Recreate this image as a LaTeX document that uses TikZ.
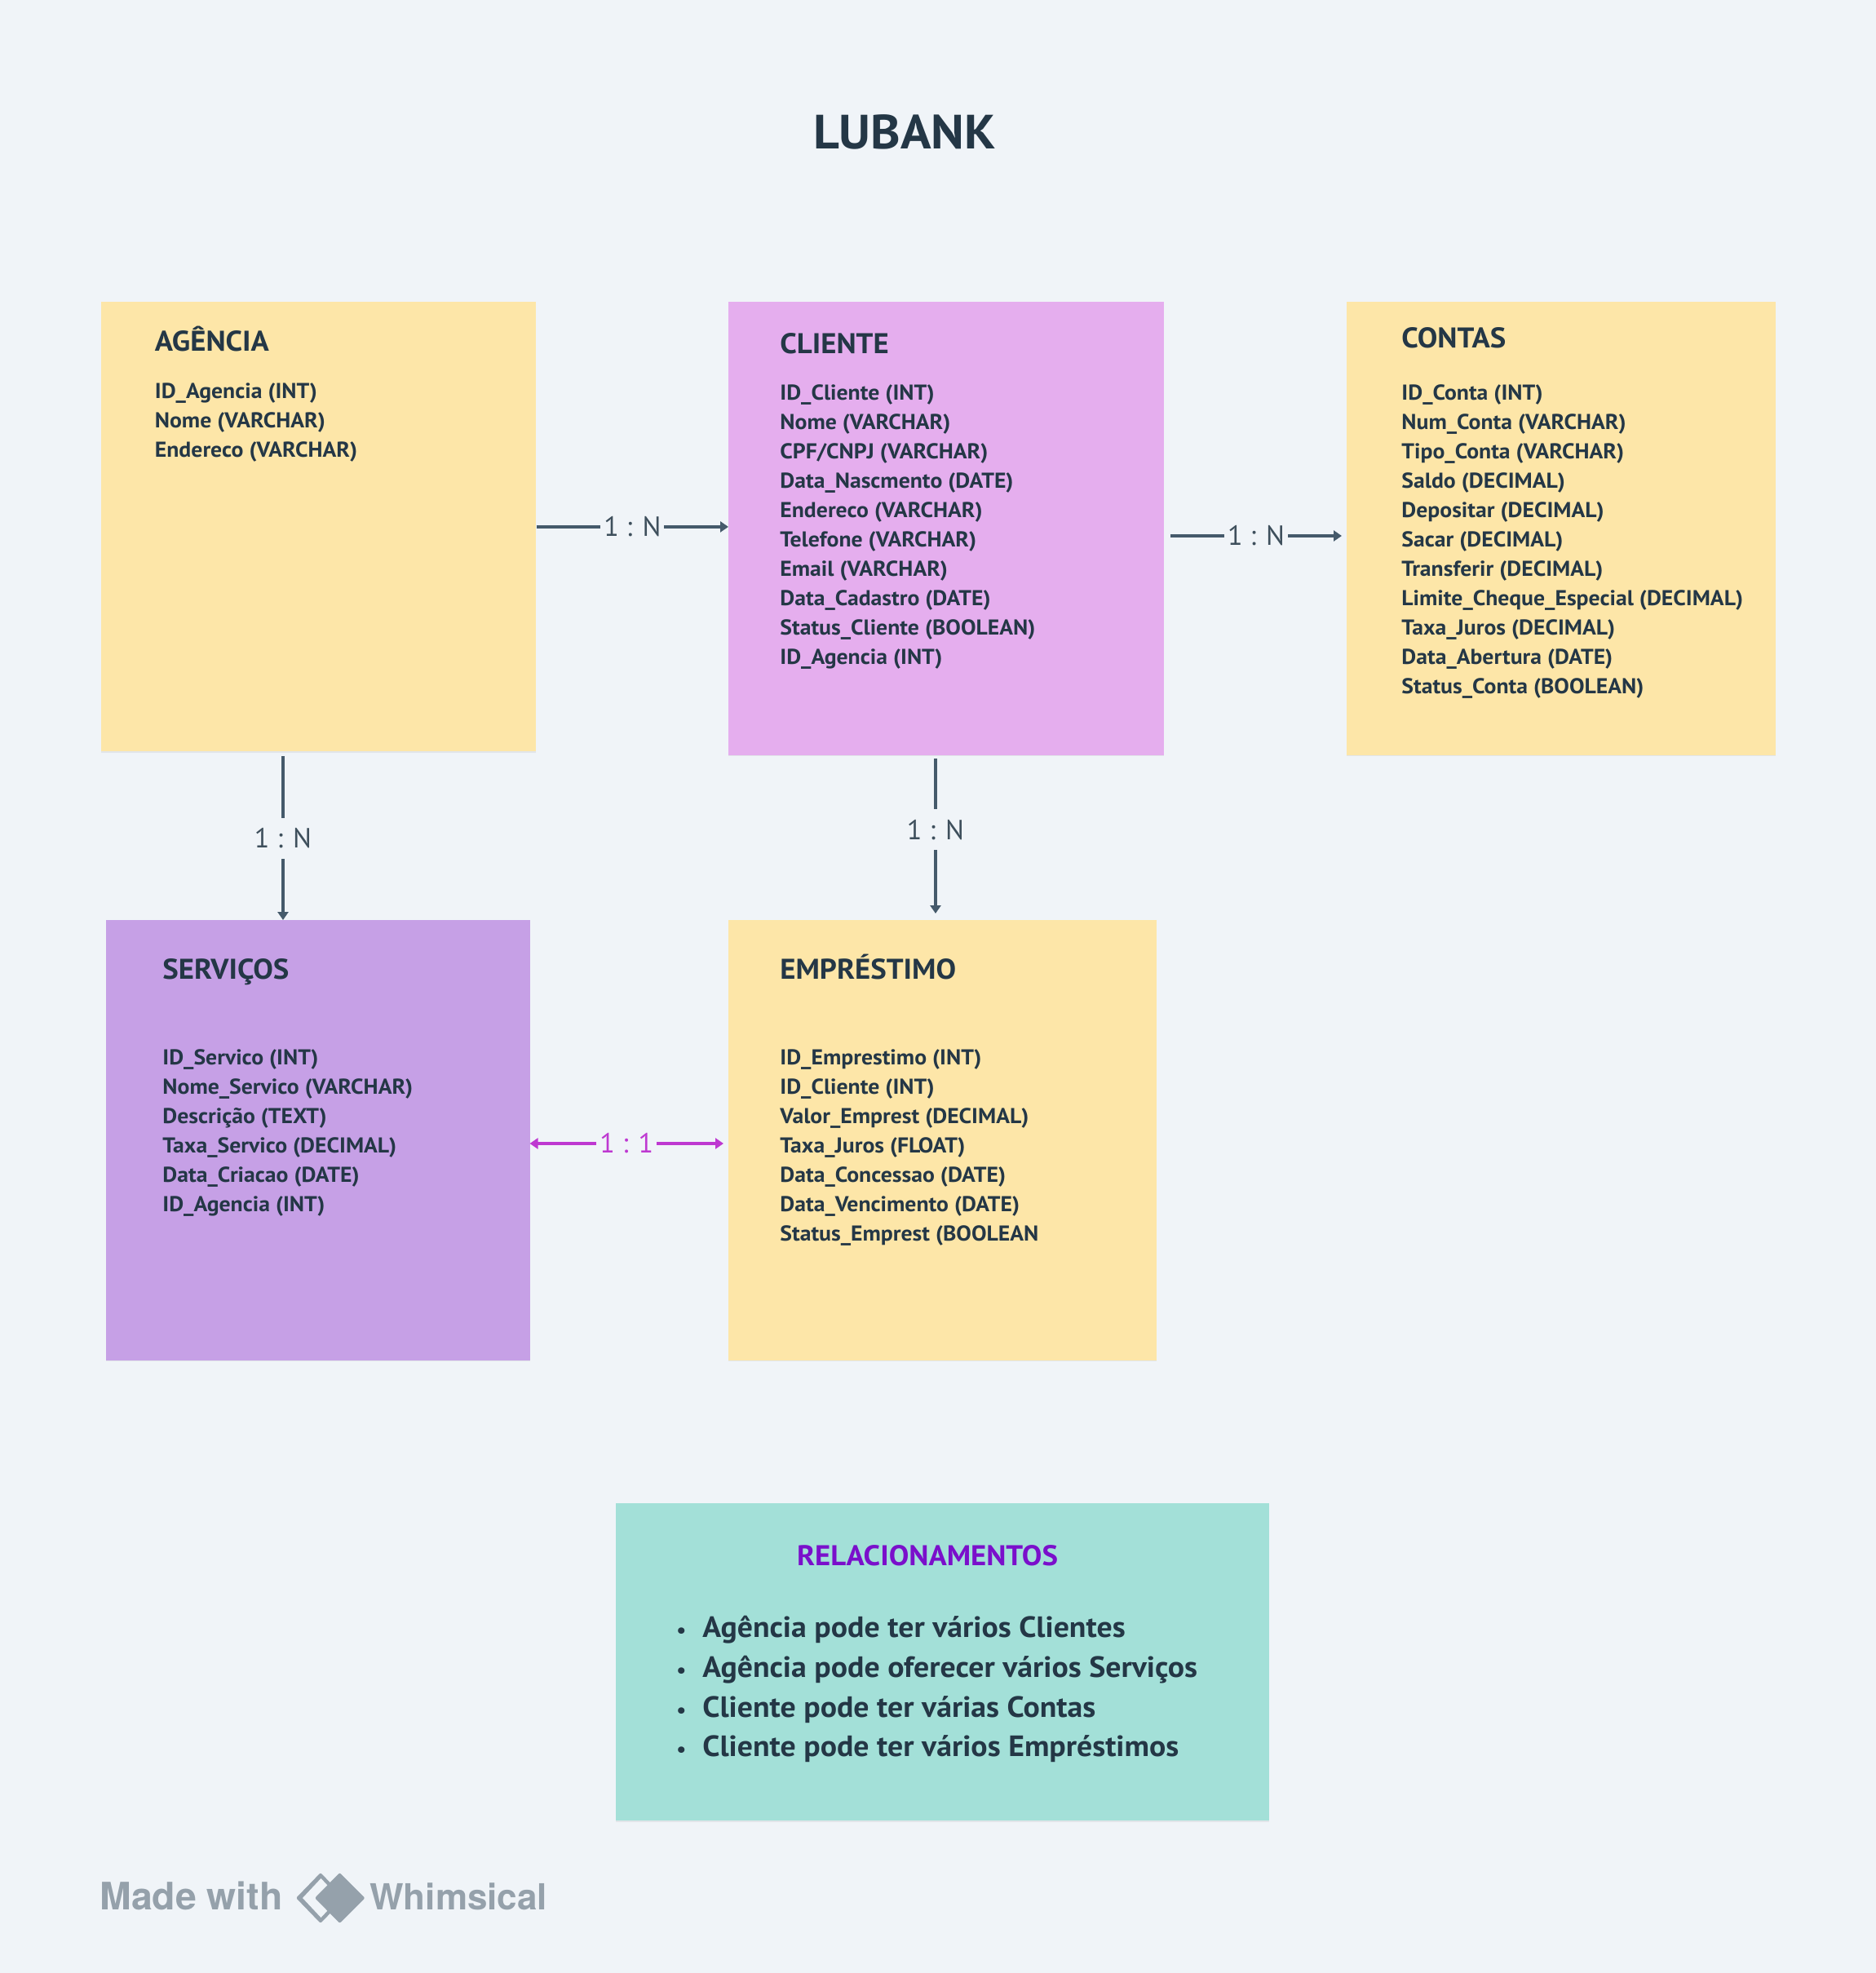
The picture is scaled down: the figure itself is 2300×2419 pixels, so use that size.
\documentclass[tikz,border=0pt]{standalone}
\usepackage{fontspec}
\setmainfont[BoldFeatures={FakeStretch=1.05}]{PT Sans}
\newfontfamily\whimfont{TeX Gyre Heros}
\usetikzlibrary{arrows.meta,calc,shadows}

\definecolor{pagebg}{HTML}{F0F4F8}
\definecolor{inkdark}{HTML}{243746}
\definecolor{inkline}{HTML}{455A6B}
\definecolor{inklabel}{HTML}{3E4F5C}
\definecolor{sand}{HTML}{FDE6A8}
\definecolor{orchid}{HTML}{E5AEEE}
\definecolor{lilac}{HTML}{C6A0E6}
\definecolor{teal}{HTML}{A3E0D8}
\definecolor{magentaline}{HTML}{BE38D1}
\definecolor{violet}{HTML}{7A0FCB}
\definecolor{logogray}{HTML}{95A1AB}

\tikzset{
	box/.style={anchor=north west, inner sep=0pt, general shadow={shadow yshift=-0.7pt, fill=black, opacity=.06}},
	heading/.style={anchor=base west, inner sep=0pt, text=inkdark, font=\fontsize{17.5}{20}\selectfont\bfseries},
	fields/.style={anchor=north west, inner sep=0pt, align=left, text=inkdark, font=\fontsize{13.2}{18}\selectfont\bfseries},
	link/.style={-{Triangle[length=5pt,width=6.5pt]}, line width=1.75pt, inkline},
	ratio/.style={fill=pagebg, inner xsep=2pt, inner ysep=0pt, minimum height=25pt, text=inklabel, font=\fontsize{17}{20}\selectfont},
	logotext/.style={anchor=base west, inner sep=0pt, text=logogray, font=\whimfont\bfseries},
}
\newcommand{\relitem}[1]{\makebox[16pt][l]{\scalebox{.7}{\textbullet}}#1}

\begin{document}
\begin{tikzpicture}[x=0.5pt, y=-0.5pt]
	\fill[pagebg] (0,0) rectangle (2300,2419);
	\useasboundingbox (0,0) rectangle (2300,2419);

	\node [anchor=center, inner sep=0pt, text=inkdark, font=\fontsize{29.5}{32}\selectfont\bfseries] (title) at (1109,162) {LUBANK};

	\node [box, fill=sand, minimum width=266.75pt, minimum height=275.5pt]		(agencia)	at (123.5,370) {};
	\node [box, fill=orchid, minimum width=267pt, minimum height=277.75pt]		(cliente)	at (893,370) {};
	\node [box, fill=sand, minimum width=263pt, minimum height=277.75pt]		(contas)	at (1650.5,370) {};
	\node [box, fill=lilac, minimum width=259.75pt, minimum height=270pt]		(servicos)	at (130,1127.5) {};
	\node [box, fill=sand, minimum width=262.5pt, minimum height=270pt]		(emprestimo)	at (893,1127.5) {};
	\node [box, fill=teal, minimum width=400.5pt, minimum height=194.5pt]		(relac)		at (755,1843) {};

	\node [heading] (agenciaT)	at (189.5,430) {AGÊNCIA};
	\node [heading] (clienteT)	at (956,433) {CLIENTE};
	\node [heading] (contasT)	at (1718,426) {CONTAS};
	\node [heading] (servicosT)	at (199,1200) {SERVIÇOS};
	\node [heading] (emprestimoT)	at (956,1200) {EMPRÉSTIMO};

	\node [fields] (agenciaF) at (189.5,469) {ID\_Agencia (INT)\\Nome (VARCHAR)\\Endereco (VARCHAR)};
	\node [fields] (clienteF) at (956,471) {ID\_Cliente (INT)\\Nome (VARCHAR)\\CPF/CNPJ (VARCHAR)\\Data\_Nascmento (DATE)\\Endereco (VARCHAR)\\Telefone (VARCHAR)\\Email (VARCHAR)\\Data\_Cadastro (DATE)\\Status\_Cliente (BOOLEAN)\\ID\_Agencia (INT)};
	\node [fields] (contasF) at (1718,471) {ID\_Conta (INT)\\Num\_Conta (VARCHAR)\\Tipo\_Conta (VARCHAR)\\Saldo (DECIMAL)\\Depositar (DECIMAL)\\Sacar (DECIMAL)\\Transferir (DECIMAL)\\Limite\_Cheque\_Especial (DECIMAL)\\Taxa\_Juros (DECIMAL)\\Data\_Abertura (DATE)\\Status\_Conta (BOOLEAN)};
	\node [fields] (servicosF) at (199,1286) {ID\_Servico (INT)\\Nome\_Servico (VARCHAR)\\Descrição (TEXT)\\Taxa\_Servico (DECIMAL)\\Data\_Criacao (DATE)\\ID\_Agencia (INT)};
	\node [fields] (emprestimoF) at (956,1286) {ID\_Emprestimo (INT)\\ID\_Cliente (INT)\\Valor\_Emprest (DECIMAL)\\Taxa\_Juros (FLOAT)\\Data\_Concessao (DATE)\\Data\_Vencimento (DATE)\\Status\_Emprest (BOOLEAN};

	\node [anchor=center, inner sep=0pt, text=violet, font=\fontsize{17.5}{20}\selectfont\bfseries] (relacT) at (1137,1907) {RELACIONAMENTOS};
	\node [anchor=north west, inner sep=0pt, align=left, text=inkdark, font=\fontsize{18}{24.35}\selectfont\bfseries] (relacF) at (829,1981) {\relitem{Agência pode ter vários Clientes}\\\relitem{Agência pode oferecer vários Serviços}\\\relitem{Cliente pode ter várias Contas}\\\relitem{Cliente pode ter vários Empréstimos}};

	\coordinate (clienteOut)	at (1435,657);
	\coordinate (contasIn)		at (1645,657);
	\coordinate (agenciaOut)	at (347,927);
	\coordinate (servicosIn)	at (347,1128);
	\coordinate (clienteDown)	at (1147,930);
	\coordinate (emprestimoIn)	at (1147,1120);
	\coordinate (servicosEnd)	at (649.5,1402);
	\coordinate (emprestimoEnd)	at (887,1402);

	\draw[link] (agencia.east) -- node[ratio] (ratioA) {1 : N} (agencia.east -| cliente.west);
	\draw[link] (clienteOut) -- node[ratio] (ratioB) {1 : N} (contasIn);
	\draw[link] (agenciaOut) -- node[ratio] (ratioC) {1 : N} (servicosIn);
	\draw[link] (clienteDown) -- node[ratio, pos=0.46] (ratioD) {1 : N} (emprestimoIn);
	\draw[link, {Triangle[length=5pt,width=6.5pt]}-{Triangle[length=5pt,width=6.5pt]}, magentaline] (servicosEnd) -- node[ratio, text=magentaline] (ratioE) {1 : 1} (emprestimoEnd);

	\node [logotext, font=\whimfont\fontsize{23.2}{26}\selectfont\bfseries] (madeT) at (122,2341) {Made with};
	\node [logotext, font=\whimfont\fontsize{22}{26}\selectfont\bfseries] (whimT) at (453,2341) {Whimsical};
	\fill[logogray, rounded corners=1pt] (363,2327) -- (393,2296) -- (423,2327) -- (393,2358) -- cycle;
	\fill[pagebg] (371,2327) -- (393.5,2303) -- (416,2327) -- (393.5,2351) -- cycle;
	\fill[logogray, rounded corners=1pt] (386,2327) -- (416.5,2296) -- (447.5,2327) -- (416.5,2358) -- cycle;
\end{tikzpicture}
\end{document}
